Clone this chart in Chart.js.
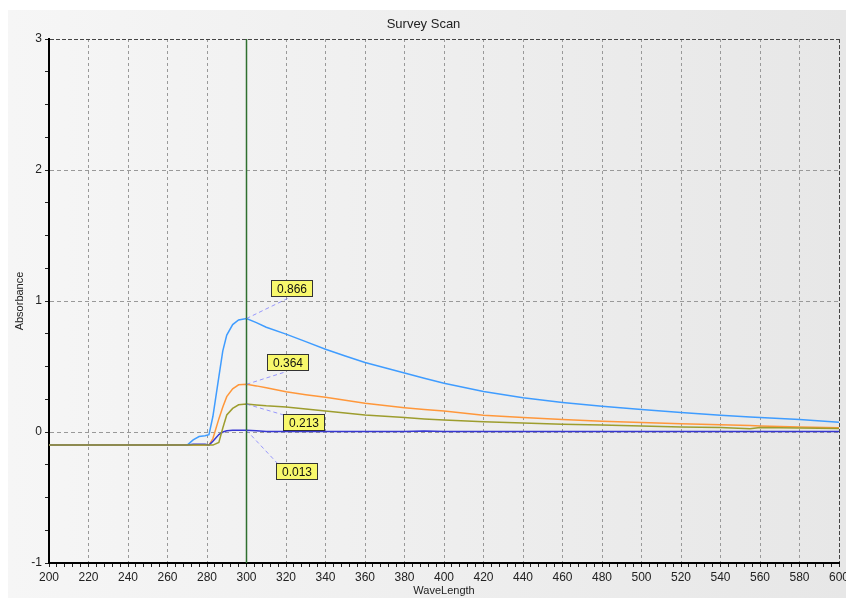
<!DOCTYPE html>
<html>
<head>
<meta charset="utf-8">
<script src="https://cdn.jsdelivr.net/npm/chart.js@4.4.0/dist/chart.umd.min.js"></script>
<style>
  html,body{margin:0;padding:0;background:#fff;}
  #wrap{width:846px;height:598px;position:relative;}
</style>
</head>
<body>
<div id="wrap"><canvas id="scanCanvas"></canvas></div>
<script>
(function(){
'use strict';

// Survey scan data (absorbance vs wavelength)
const wavelengths = [200, 270, 273, 276, 279, 281, 283, 286, 288, 290, 293, 296, 300, 305, 310, 320, 330, 340, 350, 360, 370, 380, 390, 400, 420, 440, 460, 480, 500, 520, 540, 555, 560, 580, 600];
const scanBlue   = [-0.1, -0.1, -0.06, -0.035, -0.028, -0.02, 0.12, 0.42, 0.62, 0.74, 0.82, 0.855, 0.866, 0.835, 0.80, 0.747, 0.69, 0.632, 0.58, 0.53, 0.49, 0.45, 0.41, 0.372, 0.31, 0.262, 0.226, 0.196, 0.172, 0.148, 0.128, 0.115, 0.11, 0.095, 0.075];
const scanOrange = [-0.1, -0.1, -0.1, -0.1, -0.1, -0.1, -0.05, 0.10, 0.19, 0.27, 0.33, 0.36, 0.364, 0.352, 0.337, 0.308, 0.285, 0.265, 0.243, 0.22, 0.202, 0.186, 0.172, 0.16, 0.128, 0.11, 0.095, 0.083, 0.072, 0.063, 0.055, 0.049, 0.046, 0.038, 0.032];
const scanOlive  = [-0.1, -0.1, -0.1, -0.1, -0.1, -0.1, -0.1, -0.08, 0.03, 0.13, 0.18, 0.208, 0.213, 0.207, 0.2, 0.19, 0.175, 0.16, 0.145, 0.13, 0.12, 0.11, 0.1, 0.092, 0.078, 0.068, 0.06, 0.053, 0.046, 0.038, 0.034, 0.024, 0.035, 0.03, 0.026];
const scanNavy   = [-0.1, -0.1, -0.094, -0.094, -0.094, -0.1, -0.07, -0.02, 0.0, 0.009, 0.013, 0.013, 0.013, 0.01, 0.004, 0.003, 0.003, 0.003, 0.003, 0.003, 0.003, 0.003, 0.008, 0.003, 0.003, 0.003, 0.003, 0.003, 0.003, 0.003, 0.003, 0.003, 0.003, 0.003, 0.003];

const cursorX = 300;                     // green marker line
const xMajorTicks = [200, 220, 240, 260, 280, 300, 320, 340, 360, 380, 400, 420, 440, 460, 480, 500, 520, 540, 560, 580, 600];
const yMajorTicks = [-1, 0, 1, 2, 3];

const FONT = "'Liberation Sans', Arial, sans-serif";
const toPts = ys => wavelengths.map((x, i) => ({ x: x, y: ys[i] }));

// label boxes: offset from the marker point (px)
const markerBoxes = [
  { data: scanBlue,   dx: 24, dy: -39 },
  { data: scanOrange, dx: 20, dy: -30 },
  { data: scanOlive,  dx: 36, dy: 10 },
  { data: scanNavy,   dx: 29, dy: 33 }
];

const bgPlugin = {
  id: 'panelBg',
  beforeDraw(chart){
    const c = chart.ctx;
    c.save();
    c.fillStyle = '#fff';
    c.fillRect(0, 0, chart.width, chart.height);
    const g = c.createLinearGradient(8, 0, chart.width, 0);
    g.addColorStop(0, '#f6f6f6');
    g.addColorStop(1, '#e7e7e7');
    c.fillStyle = g;
    c.fillRect(8, 10, chart.width - 8, chart.height - 10);
    c.restore();
  }
};

const markerPlugin = {
  id: 'markerLabels',
  afterDatasetsDraw(chart){
    const c = chart.ctx;
    const xs = chart.scales.x, ys = chart.scales.y;
    const idx = wavelengths.indexOf(cursorX);
    const px = xs.getPixelForValue(cursorX);
    c.save();
    markerBoxes.forEach(b => {
      const v = b.data[idx];
      const py = ys.getPixelForValue(v);
      const bw = 41, bh = 16;
      const left = Math.round(px + b.dx) + 0.5, top = Math.round(py + b.dy) + 0.5;
      const ex = b.dy < 0 ? left + 16 : left + 2;
      const ey = b.dy < 0 ? top + bh + 2 : top + 1;
      // leader
      c.setLineDash([4, 3]);
      c.strokeStyle = 'rgba(120,120,255,0.75)';
      c.lineWidth = 1;
      c.beginPath(); c.moveTo(px, py); c.lineTo(ex, ey); c.stroke();
      // box
      c.setLineDash([]);
      c.fillStyle = '#f8f86c';
      c.fillRect(left, top, bw, bh);
      c.strokeStyle = '#333';
      c.strokeRect(left, top, bw, bh);
      c.fillStyle = '#111';
      c.font = '12px ' + FONT;
      c.textAlign = 'center'; c.textBaseline = 'middle';
      c.fillText(v.toFixed(3), left + bw / 2, top + bh / 2 + 1);
    });
    c.restore();
  }
};

const ctx = document.getElementById('scanCanvas').getContext('2d');
new Chart(ctx, {
  type: 'line',
  data: {
    datasets: [
      { label: 'cursor', data: [{ x: cursorX, y: -1 }, { x: cursorX, y: 3 }], borderColor: '#2f6f2f', borderWidth: 1.5, order: 0 },
      { label: 'S3', data: toPts(scanOlive),  borderColor: '#9d9d2e', borderWidth: 1.5, order: 1 },
      { label: 'S4', data: toPts(scanNavy),   borderColor: '#3737d2', borderWidth: 1.5, order: 2 },
      { label: 'S2', data: toPts(scanOrange), borderColor: '#ff973a', borderWidth: 1.5, order: 3 },
      { label: 'S1', data: toPts(scanBlue),   borderColor: '#3f9cff', borderWidth: 1.5, order: 4 }
    ]
  },
  options: {
    responsive: true, maintainAspectRatio: false, animation: false,
    layout: { padding: { left: 8, top: 10, right: 7, bottom: 0 } },
    elements: { point: { radius: 0 }, line: { tension: 0 } },
    plugins: {
      legend: { display: false },
      tooltip: { enabled: false },
      title: { display: true, text: 'Survey Scan', color: '#222', font: { family: FONT, size: 13, weight: 'normal' }, padding: { top: 7, bottom: 6.4 } }
    },
    scales: {
      x: {
        type: 'linear', min: 200, max: 600,
        afterBuildTicks: s => { const t = []; for(let v = 200; v <= 600; v += 4) t.push({ value: v }); s.ticks = t; },
        afterFit: s => { s.height = 35; s.paddingLeft = 0; s.paddingRight = 0; },
        ticks: { autoSkip: false, maxRotation: 0, padding: 3, color: '#222', font: { family: FONT, size: 12 },
          callback: v => xMajorTicks.includes(v) ? String(v) : '' },
        grid: {
          color: c => { const v = c.tick && c.tick.value;
            if(v === 600) return '#444';
            if(v === 200 || v === cursorX || v % 20 !== 0) return 'rgba(0,0,0,0)';
            return '#999'; },
          lineWidth: 1, tickLength: 4, tickColor: '#222', tickBorderDash: []
        },
        border: { display: true, color: '#000', width: 2, dash: c => (c.tick && c.tick.value === 600) ? [4, 2] : [3, 3] },
        title: { display: true, text: 'WaveLength', color: '#222', font: { family: FONT, size: 11 }, padding: { top: 0, bottom: 0 } }
      },
      y: {
        type: 'linear', min: -1, max: 3,
        afterBuildTicks: s => { const t = []; for(let v = -1; v <= 3; v += 0.25) t.push({ value: v }); s.ticks = t; },
        afterFit: s => { s.width = 41; },
        ticks: { autoSkip: false, padding: 3, color: '#222', font: { family: FONT, size: 12 },
          callback: v => yMajorTicks.includes(v) ? String(v) : '' },
        grid: {
          color: c => { const v = c.tick && c.tick.value;
            if(v === 3) return '#444';
            if(v === -1 || !Number.isInteger(v)) return 'rgba(0,0,0,0)';
            return '#999'; },
          lineWidth: 1, tickLength: 4, tickColor: '#222', tickBorderDash: []
        },
        border: { display: true, color: '#000', width: 2, dash: c => (c.tick && c.tick.value === 3) ? [4, 2] : [4, 3] },
        title: { display: true, text: 'Absorbance', color: '#222', font: { family: FONT, size: 11 }, padding: { top: 5.4, bottom: 0 } }
      }
    }
  },
  plugins: [bgPlugin, markerPlugin]
});

})();
</script>
</body>
</html>
